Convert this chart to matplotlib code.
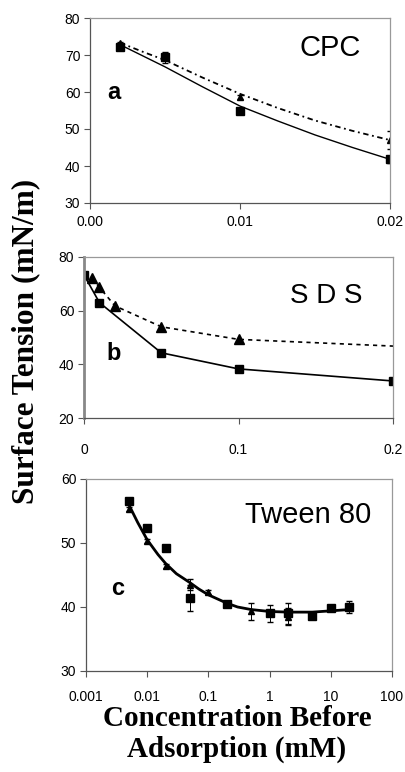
import matplotlib
matplotlib.use("Agg")
import matplotlib.pyplot as plt

# ---- data ----
# a: CPC
cpc_x = [0.002, 0.005, 0.01, 0.02]
cpc_sq = [72.1, 69.4, 54.9, 41.8]
cpc_sq_err = [0.5, 1.5, 0.5, 1.0]
cpc_tri = [73.2, 70.0, 58.7, 47.0]
cpc_tri_err = [0.3, 0.5, 0.5, 2.5]
cpc_fit_x = [0.002, 0.0035, 0.005, 0.0075, 0.01, 0.0125, 0.015, 0.0175, 0.02]
cpc_fit_sq = [72.8, 69.8, 66.8, 61.4, 56.2, 52.2, 48.4, 45.0, 41.8]
cpc_fit_tri = [73.3, 70.9, 68.6, 63.9, 59.5, 55.7, 52.3, 49.5, 47.0]

# b: SDS
sds_sq_x = [0, 0.01, 0.05, 0.1, 0.2]
sds_sq = [73.3, 63.0, 44.3, 38.3, 33.8]
sds_tri_x = [0.005, 0.01, 0.02, 0.05, 0.1]
sds_tri = [72.2, 68.7, 61.8, 54.0, 49.3]
sds_line_x = [0, 0.005, 0.01, 0.02, 0.05, 0.1, 0.2]
sds_line = [73.3, 72.2, 68.7, 61.8, 54.0, 49.3, 46.8]

# c: Tween 80
tw_sq_x = [0.005, 0.01, 0.02, 0.05, 0.2, 1, 2, 5, 10, 20]
tw_sq = [56.6, 52.3, 49.2, 41.4, 40.5, 39.0, 39.0, 38.6, 39.8, 40.0]
tw_sq_err = [0.5, 0.5, 0.3, 2.0, 0.3, 1.3, 1.6, 0.5, 0.3, 0.9]
tw_tri_x = [0.005, 0.01, 0.02, 0.05, 0.1, 0.5, 2]
tw_tri = [55.3, 50.3, 46.4, 43.5, 42.4, 39.3, 38.5]
tw_tri_err = [0.3, 0.3, 0.3, 0.8, 0.3, 1.3, 1.3]
tw_fit_x = [0.005, 0.007, 0.01, 0.015, 0.02, 0.03, 0.05, 0.07, 0.1, 0.2,
            0.3, 0.5, 1, 2, 5, 10, 20]
tw_fit = [56.0, 53.2, 50.5, 48.2, 46.8, 45.2, 43.8, 42.8, 41.9, 40.6,
          40.0, 39.6, 39.3, 39.2, 39.2, 39.4, 39.6]

sans = ["Liberation Sans", "DejaVu Sans"]
narrow = ["Liberation Sans Narrow", "Liberation Sans", "DejaVu Sans"]
serif = ["Liberation Serif", "DejaVu Serif"]

fig = plt.figure(figsize=(4.06, 7.72), dpi=100)


def style(ax, fam):
    for s in ["top", "right"]:
        ax.spines[s].set_color("#999999")
    for s in ["left", "bottom"]:
        ax.spines[s].set_color("#555555")
    for s in ax.spines.values():
        s.set_linewidth(0.9)
    ax.tick_params(direction="out", length=4, width=0.8, color="#555555",
                   labelsize=10, pad=3)
    for lab in ax.get_xticklabels() + ax.get_yticklabels():
        lab.set_family(fam)


# panel a
ax1 = fig.add_axes([90 / 406, 1 - 203 / 772, 300 / 406, 185 / 772])
ax1.plot(cpc_fit_x, cpc_fit_sq, color="black", lw=1.0)
ax1.plot(cpc_fit_x, cpc_fit_tri, color="black", lw=1.3, ls=(0, (3, 2, 1, 2)))
ax1.errorbar(cpc_x, cpc_sq, yerr=cpc_sq_err, fmt="s", color="black", ms=6,
             elinewidth=0.7, capsize=2)
ax1.errorbar(cpc_x, cpc_tri, yerr=cpc_tri_err, fmt="^", color="black", ms=5,
             elinewidth=0.7, capsize=2)
ax1.set_xlim(0, 0.02)
ax1.set_ylim(30, 80)
ax1.set_xticks([0, 0.01, 0.02])
ax1.set_xticklabels(["0.00", "0.01", "0.02"])
ax1.set_yticks([30, 40, 50, 60, 70, 80])
style(ax1, sans)
ax1.tick_params(axis="x", pad=5)
ax1.text(0.80, 0.84, "CPC", transform=ax1.transAxes, fontsize=21,
         family=sans, ha="center", va="center")
ax1.text(0.08, 0.595, "a", transform=ax1.transAxes, fontsize=17,
         family=sans, fontweight="bold", ha="center", va="center")

# panel b
ax2 = fig.add_axes([84 / 406, 1 - 418 / 772, 309 / 406, 161 / 772])
ax2.plot(sds_sq_x, sds_sq, color="black", lw=1.2, marker="s", ms=6)
ax2.plot(sds_line_x, sds_line, color="black", lw=1.2, ls=(0, (2.5, 2.5)))
ax2.plot(sds_tri_x, sds_tri, color="black", lw=0, marker="^", ms=7)
ax2.set_xlim(0, 0.2)
ax2.set_ylim(20, 80)
ax2.set_xticks([0, 0.1, 0.2])
ax2.set_xticklabels(["0", "0.1", "0.2"])
ax2.set_yticks([20, 40, 60, 80])
style(ax2, narrow)
ax2.spines["left"].set_color("#888888")
ax2.spines["left"].set_linewidth(2)
ax2.tick_params(axis="x", pad=14)
ax2.text(0.785, 0.76, "S D S", transform=ax2.transAxes, fontsize=20,
         family=narrow, ha="center", va="center")
ax2.text(0.095, 0.40, "b", transform=ax2.transAxes, fontsize=17,
         family=sans, fontweight="bold", ha="center", va="center")

# panel c
ax3 = fig.add_axes([86 / 406, 1 - 671 / 772, 306 / 406, 192 / 772])
ax3.plot(tw_fit_x, tw_fit, color="black", lw=2.0)
ax3.errorbar(tw_sq_x, tw_sq, yerr=tw_sq_err, fmt="s", color="black", ms=6,
             elinewidth=0.7, capsize=2)
ax3.errorbar(tw_tri_x, tw_tri, yerr=tw_tri_err, fmt="^", color="black", ms=5,
             elinewidth=0.7, capsize=2)
ax3.set_xscale("log")
ax3.set_xlim(0.001, 100)
ax3.set_ylim(30, 60)
ax3.set_xticks([0.001, 0.01, 0.1, 1, 10, 100])
ax3.set_xticklabels(["0.001", "0.01", "0.1", "1", "10", "100"])
ax3.minorticks_off()
ax3.set_yticks([30, 40, 50, 60])
style(ax3, sans)
ax3.tick_params(axis="x", pad=10)
ax3.text(0.725, 0.815, "Tween 80", transform=ax3.transAxes, fontsize=21,
         family=sans, ha="center", va="center")
ax3.text(0.105, 0.43, "c", transform=ax3.transAxes, fontsize=17,
         family=sans, fontweight="bold", ha="center", va="center")

# shared labels
fig.text(26 / 406, 1 - 341 / 772, "Surface Tension (mN/m)", rotation=90,
         fontsize=22.5, family=serif, fontweight="bold", ha="center", va="center")
fig.text(237 / 406, 1 - 734 / 772, "Concentration Before\nAdsorption (mM)",
         fontsize=21, family=serif, fontweight="bold", ha="center",
         va="center", linespacing=1.2)

fig.savefig("out.png", dpi=100)
